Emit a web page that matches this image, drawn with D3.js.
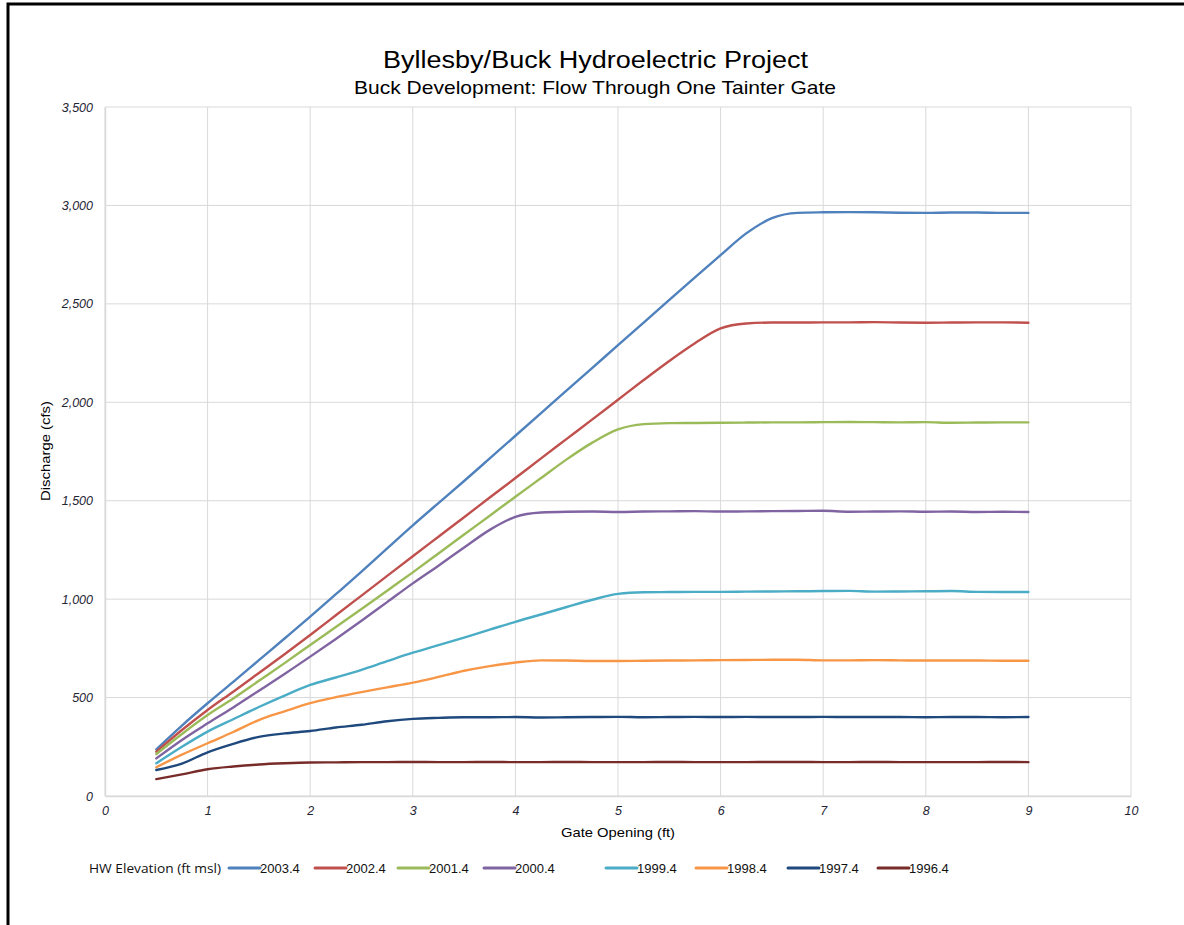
<!DOCTYPE html>
<html>
<head>
<meta charset="utf-8">
<script src="https://cdn.jsdelivr.net/npm/d3@7"></script>
<style>
  html, body { margin: 0; padding: 0; background: #fff; }
  svg { display: block; }
</style>
</head>
<body>
<svg id="chart" width="1184" height="925"></svg>
<script>
// Gate opening (ft) sample points shared by every headwater curve
const gateOpening = [0.5, 0.75, 1, 1.25, 1.5, 1.75, 2, 2.25, 2.5, 2.75, 3, 3.25, 3.5, 3.75, 4, 4.25, 4.5, 4.75,
  5, 5.25, 5.5, 5.75, 6, 6.25, 6.5, 6.75, 7, 7.25, 7.5, 7.75, 8, 8.25, 8.5, 8.75, 9];

// Discharge (cfs) for each headwater elevation
const hw2003_4 = [237, 358, 471, 580, 690, 800, 911, 1025, 1140, 1258, 1375, 1488, 1600, 1715, 1830, 1945, 2060, 2175,
  2290, 2405, 2520, 2635, 2748, 2858, 2935, 2962, 2965, 2966, 2965, 2963, 2962, 2964, 2964, 2962, 2962];
const hw2002_4 = [225, 335, 437, 530, 625, 720, 818, 918, 1018, 1118, 1218, 1317, 1416, 1516, 1615, 1715, 1814, 1913,
  2013, 2113, 2210, 2300, 2375, 2400, 2405, 2405, 2406, 2406, 2407, 2405, 2404, 2405, 2406, 2406, 2404];
const hw2001_4 = [213, 315, 411, 495, 585, 675, 767, 858, 950, 1043, 1136, 1232, 1328, 1424, 1520, 1615, 1710, 1795,
  1862, 1889, 1894, 1895, 1896, 1897, 1898, 1898, 1899, 1900, 1899, 1898, 1899, 1896, 1897, 1898, 1898];
const hw2000_4 = [191, 285, 369, 450, 535, 620, 708, 798, 890, 985, 1080, 1170, 1262, 1352, 1418, 1440, 1444, 1445,
  1443, 1445, 1446, 1447, 1445, 1446, 1447, 1448, 1449, 1444, 1445, 1446, 1444, 1445, 1443, 1444, 1443];
const hw1999_4 = [166, 250, 327, 390, 452, 510, 564, 602, 641, 685, 728, 766, 805, 845, 885, 922, 960, 997,
  1027, 1035, 1036, 1037, 1037, 1038, 1039, 1040, 1041, 1042, 1038, 1039, 1040, 1041, 1037, 1036, 1036];
const hw1998_4 = [146, 210, 268, 325, 386, 430, 472, 502, 528, 552, 576, 605, 636, 660, 678, 689, 688, 686,
  686, 687, 688, 689, 690, 691, 692, 692, 689, 689, 690, 689, 688, 688, 688, 687, 687];
const hw1997_4 = [132, 165, 222, 265, 300, 318, 330, 348, 362, 380, 392, 397, 400, 400, 401, 399, 400, 401,
  402, 400, 401, 402, 401, 402, 401, 401, 402, 401, 401, 401, 400, 401, 401, 400, 401];
const hw1996_4 = [86, 110, 136, 150, 160, 166, 170, 171, 172, 172, 173, 172, 172, 173, 172, 172, 173, 172,
  172, 172, 173, 172, 172, 172, 173, 173, 172, 172, 173, 172, 172, 172, 172, 173, 172];

const seriesNames = ["2003.4", "2002.4", "2001.4", "2000.4", "1999.4", "1998.4", "1997.4", "1996.4"];
const seriesValues = [hw2003_4, hw2002_4, hw2001_4, hw2000_4, hw1999_4, hw1998_4, hw1997_4, hw1996_4];
const seriesColors = ["#4F81BD", "#C0504D", "#9BBB59", "#8064A2", "#4BACC6", "#F79646", "#1F497D", "#772C2A"];

const xTicks = [0, 1, 2, 3, 4, 5, 6, 7, 8, 9, 10];
const yTicks = [0, 500, 1000, 1500, 2000, 2500, 3000, 3500];

const svg = d3.select("#chart");

// outer frame
svg.append("rect")
  .attr("x", 8).attr("y", 4)
  .attr("width", 1300).attr("height", 1100)
  .attr("fill", "none").attr("stroke", "#000").attr("stroke-width", 3);

const plot = { left: 105, right: 1131, top: 107, bottom: 796 };

const x = d3.scaleLinear().domain([0, 10]).range([plot.left, plot.right]);
const y = d3.scaleLinear().domain([0, 3500]).range([plot.bottom, plot.top]);

const labelFont = "'Liberation Sans', Arial, sans-serif";
const tickColor = "#1e2433";

// grid
const grid = svg.append("g");
grid.selectAll("line.gx").data(xTicks).join("line")
  .attr("x1", d => x(d)).attr("x2", d => x(d))
  .attr("y1", plot.top).attr("y2", plot.bottom)
  .attr("stroke", "#d9d9d9").attr("stroke-width", 1);
grid.selectAll("line.gy").data(yTicks).join("line")
  .attr("x1", plot.left).attr("x2", plot.right)
  .attr("y1", d => y(d)).attr("y2", d => y(d))
  .attr("stroke", "#d9d9d9").attr("stroke-width", 1);

// axes
const xAxis = svg.append("g")
  .attr("transform", `translate(0,${plot.bottom})`)
  .call(d3.axisBottom(x).tickValues(xTicks).tickSize(0).tickPadding(10).tickFormat(d3.format("d")));
const yAxis = svg.append("g")
  .attr("transform", `translate(${plot.left},0)`)
  .call(d3.axisLeft(y).tickValues(yTicks).tickSize(0).tickPadding(12).tickFormat(d3.format(",")));
[xAxis, yAxis].forEach(ax => {
  ax.select(".domain").attr("stroke", "#d9d9d9").attr("stroke-width", 1.5);
  ax.selectAll("text")
    .attr("font-family", labelFont)
    .attr("font-size", 12.5)
    .attr("font-style", "italic")
    .attr("fill", tickColor);
});

// curves
const line = d3.line()
  .x((d, i) => x(gateOpening[i]))
  .y(d => y(d))
  .curve(d3.curveMonotoneX);

svg.append("g").selectAll("path").data(seriesValues).join("path")
  .attr("d", d => line(d))
  .attr("fill", "none")
  .attr("stroke", (d, i) => seriesColors[i])
  .attr("stroke-width", 2.4)
  .attr("stroke-linejoin", "round")
  .attr("stroke-linecap", "round");

// titles
svg.append("text")
  .attr("x", 595.5).attr("y", 68)
  .attr("text-anchor", "middle")
  .attr("font-family", labelFont).attr("font-size", 23.5).attr("fill", "#000")
  .attr("textLength", 425).attr("lengthAdjust", "spacingAndGlyphs")
  .text("Byllesby/Buck Hydroelectric Project");
svg.append("text")
  .attr("x", 595).attr("y", 94)
  .attr("text-anchor", "middle")
  .attr("font-family", labelFont).attr("font-size", 18.5).attr("fill", "#000")
  .attr("textLength", 482).attr("lengthAdjust", "spacingAndGlyphs")
  .text("Buck Development: Flow Through One Tainter Gate");

svg.append("text")
  .attr("transform", "translate(50,451) rotate(-90)")
  .attr("text-anchor", "middle")
  .attr("font-family", labelFont).attr("font-size", 13.5).attr("fill", "#000")
  .attr("textLength", 100).attr("lengthAdjust", "spacingAndGlyphs")
  .text("Discharge (cfs)");

svg.append("text")
  .attr("x", 618).attr("y", 837)
  .attr("text-anchor", "middle")
  .attr("font-family", labelFont).attr("font-size", 13.5).attr("fill", "#000")
  .attr("textLength", 114).attr("lengthAdjust", "spacingAndGlyphs")
  .text("Gate Opening (ft)");

// legend
const legendY = 868;
svg.append("text")
  .attr("x", 89).attr("y", legendY + 5)
  .attr("font-family", "'Open Sans', sans-serif").attr("font-size", 13.5).attr("fill", "#111")
  .attr("textLength", 132).attr("lengthAdjust", "spacingAndGlyphs")
  .text("HW Elevation (ft msl)");

const legendX = [229, 315, 398, 484, 606, 696, 788, 878];
const legend = svg.append("g").selectAll("g").data(seriesNames).join("g")
  .attr("transform", (d, i) => `translate(${legendX[i]},${legendY})`);
legend.append("line")
  .attr("x1", 0).attr("x2", 31)
  .attr("stroke", (d, i) => seriesColors[i])
  .attr("stroke-width", 3).attr("stroke-linecap", "round");
legend.append("text")
  .attr("x", 31).attr("y", 4.5)
  .attr("font-family", labelFont).attr("font-size", 13).attr("fill", "#111")
  .text(d => d);
</script>
</body>
</html>
